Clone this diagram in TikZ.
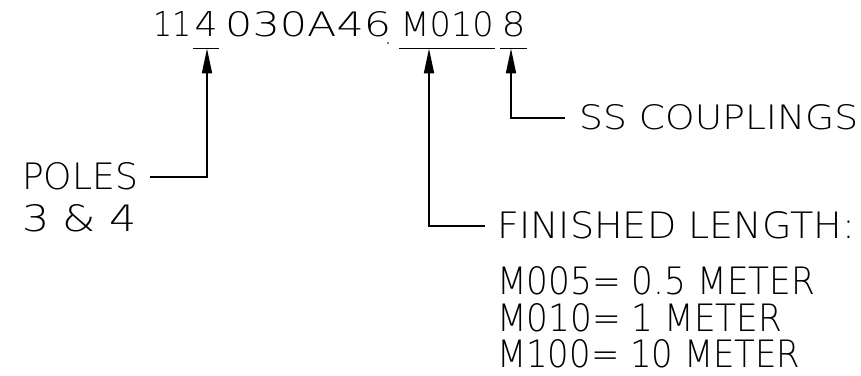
\documentclass[tikz,border=0pt]{standalone}
\usepackage{fontspec}
\setmainfont{DejaVu Sans ExtraLight}
\usetikzlibrary{arrows.meta,calc}
\newcommand{\fitbox}[3]{\resizebox{#1pt}{#2pt}{#3}}
\begin{document}
\begin{tikzpicture}[x=1pt,y=1pt,
  seg/.style={inner xsep=1.5pt, inner ysep=11.5pt, anchor=south west},
  lbl/.style={inner sep=0pt, anchor=base west},
  conn/.style={line width=1.8pt, -{Triangle[length=25pt,width=10pt]}},
  uline/.style={line width=1.8pt}]
\useasboundingbox (0,0) rectangle (861,375);
% part number segments
\node[seg] (s11) at (151.5,326.5) {\fitbox{38}{25}{11}};
\node[seg] (s4) at (193,326.5) {\fitbox{23}{25}{4}};
\node[seg] (smid) at (223.5,326.5) {\fitbox{166}{25}{030A46}};
\node[seg] (sM) at (399,326.5) {\fitbox{93}{25}{M010}};
\node[seg] (s8) at (500,326.5) {\fitbox{24}{25}{8}};
\fill (388,332) circle (0.9pt);
% underlines
\draw[uline] (s4.south west) -- (s4.south east);
\draw[uline] (sM.south west) -- (sM.south east);
\draw[uline] (s8.south west) -- (s8.south east);
% arrow points
\coordinate (a4) at ($(s4.south west)+(14,0)$);
\coordinate (aM) at ($(sM.south west)+(30,0)$);
\coordinate (a8) at ($(s8.south west)+(11,0)$);
% labels
\node[lbl] (poles) at (22,185) {\fitbox{116}{27}{POLES}};
\node[lbl] (p34) at (22,143) {\fitbox{115}{27}{3 \& 4}};
\node[lbl] (ss) at (579,245) {\fitbox{279}{25}{SS COUPLINGS}};
\node[lbl] (fin) at (497,136) {\fitbox{358}{27}{FINISHED LENGTH:}};
\node[lbl] (m005) at (497,80.5) {\fitbox{318}{28}{M005= 0.5 METER}};
\node[lbl] (m010) at (497,44) {\fitbox{285}{28}{M010= 1 METER}};
\node[lbl] (m100) at (497,8) {\fitbox{303}{28}{M100= 10 METER}};
% connectors
\draw[conn, shorten <=12pt] (poles.east) -| (a4);
\draw[conn, shorten <=12pt] (fin.west) -| (aM);
\draw[conn, shorten <=14pt] (ss.west) -| (a8);
\end{tikzpicture}
\end{document}
